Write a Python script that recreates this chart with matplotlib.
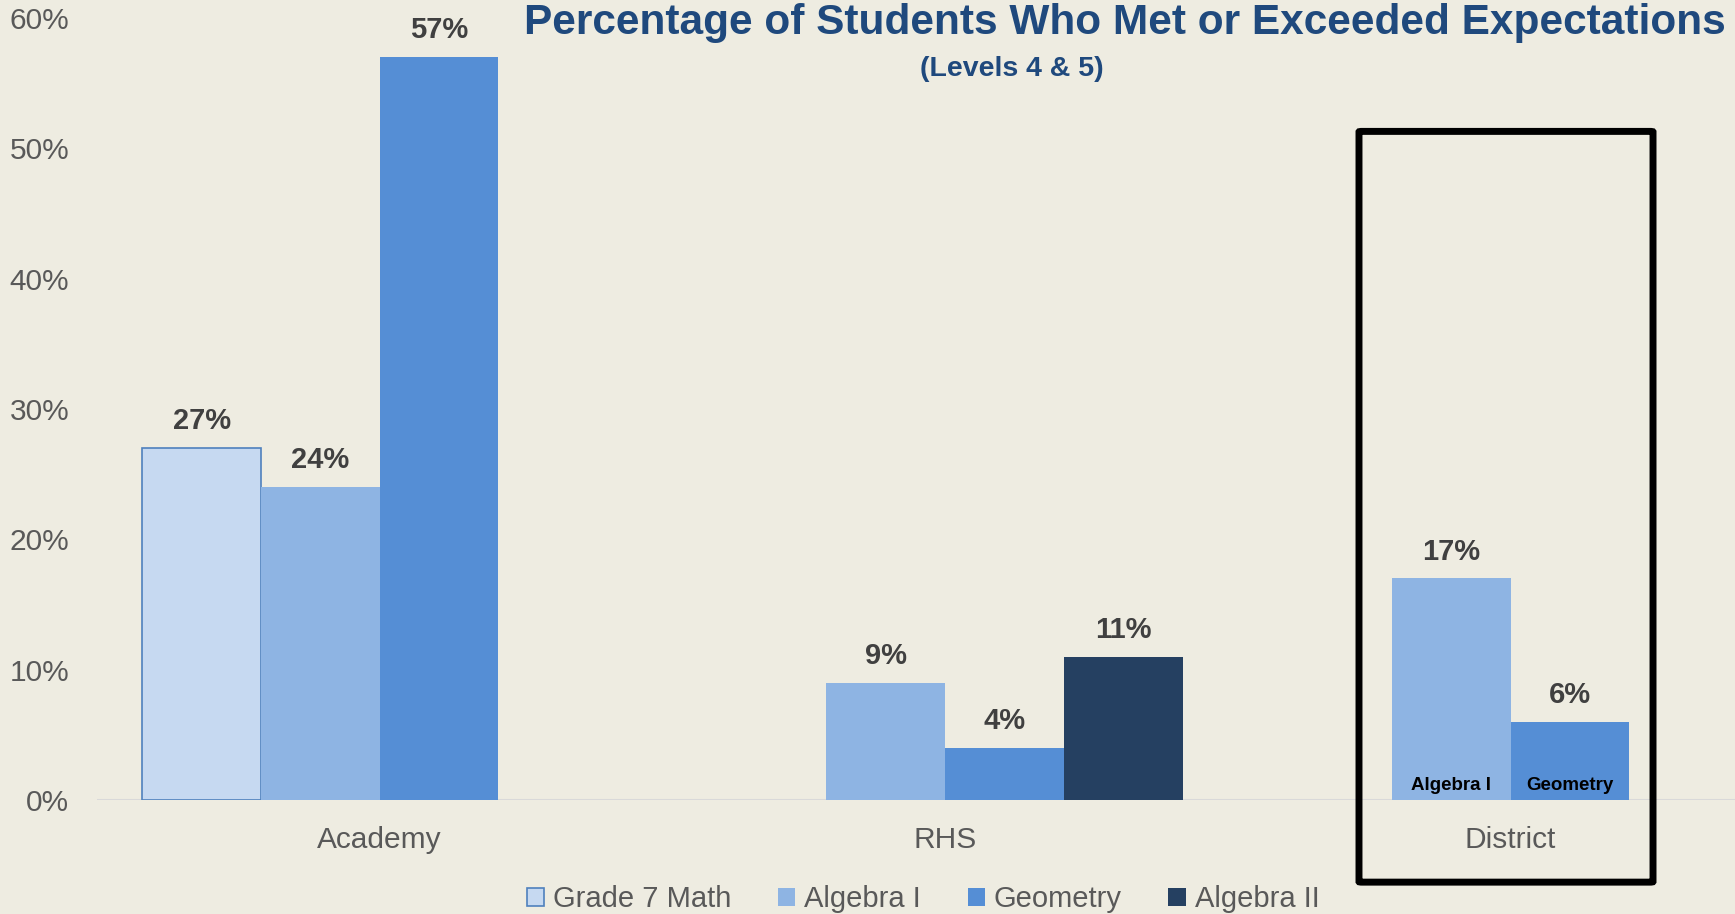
import numpy as np
import matplotlib.pyplot as plt
from matplotlib.patches import FancyBboxPatch

# data
schools = ["Academy", "RHS", "District"]
series = ["Grade 7 Math", "Algebra I", "Geometry", "Algebra II"]
grade7 = [27, np.nan, np.nan]
algebra1 = [24, 9, 17]
geometry = [57, 4, 6]
algebra2 = [np.nan, 11, np.nan]
values = [grade7, algebra1, geometry, algebra2]
colors = ["#C6D9F1", "#8EB4E3", "#558ED5", "#254061"]
yticks = [0, 10, 20, 30, 40, 50, 60]

bg = "#EEECE1"
gray = "#595959"
plt.rcParams["font.family"] = ["Liberation Sans", "DejaVu Sans"]

fig = plt.figure(figsize=(17.35, 9.14), dpi=100, facecolor=bg)
ax = fig.add_axes([0.0559, 0.1247, 0.9441, 0.8556], facecolor=bg)

x = np.arange(len(schools))
w = 0.21
offsets = [-1.5 * w, -0.5 * w, 0.5 * w, 1.5 * w]

for i, (name, vals) in enumerate(zip(series, values)):
    vals = np.array(vals, dtype=float)
    ok = ~np.isnan(vals)
    xs = x[ok] + offsets[i]
    ec = "#4F81BD" if i == 0 else colors[i]
    ax.bar(xs, vals[ok], w, color=colors[i], edgecolor=ec,
           linewidth=1.2 if i == 0 else 0, label=name, zorder=3)
    for xi, v in zip(xs, vals[ok]):
        ax.text(xi, v + 2.05, f"{v:.0f}%", ha="center", va="center",
                fontsize=21, fontweight="bold", color="#404040")

# inside labels for District bars
ax.text(x[2] + offsets[1], 1.1, "Algebra I", ha="center", va="center",
        fontsize=13.5, fontweight="bold", color="black", zorder=4)
ax.text(x[2] + offsets[2], 1.1, "Geometry", ha="center", va="center",
        fontsize=13.5, fontweight="bold", color="black", zorder=4)

ax.set_xlim(-0.5, 2.397)
ax.set_ylim(0, 60)
ax.set_yticks(yticks)
ax.set_yticklabels([f"{t}%" for t in yticks], fontsize=21.5, color=gray)
ax.set_xticks(x)
ax.set_xticklabels(schools, fontsize=21.5, color=gray)
ax.tick_params(axis="y", length=0, pad=20)
ax.tick_params(axis="x", length=0, pad=19)
for s in ax.spines.values():
    s.set_visible(False)
ax.axhline(0, color="#D9D9D9", linewidth=1.5, zorder=2)

# highlight box around District
box = FancyBboxPatch((x[2] - 0.268, -6.3), 0.52, 57.6,
                     boxstyle="round,pad=0,rounding_size=0.005",
                     fill=False, edgecolor="black", linewidth=5,
                     clip_on=False, zorder=5, mutation_aspect=8)
ax.add_patch(box)

fig.text(0.6486, 0.975, "Percentage of Students Who Met or Exceeded Expectations",
         ha="center", va="center", fontsize=30.5, fontweight="bold",
         color="#1F497D")
fig.text(0.5829, 0.925, "(Levels 4 & 5)", ha="center", va="center",
         fontsize=20.5, fontweight="bold", color="#1F497D")

leg = fig.legend(loc="center", bbox_to_anchor=(0.532, 0.016), ncol=4,
                 frameon=False, handlelength=0.6, handleheight=0.6,
                 handletextpad=0.3, columnspacing=1.6,
                 prop={"size": 21})
for t in leg.get_texts():
    t.set_color(gray)

fig.savefig("out.png", dpi=100, facecolor=bg)
